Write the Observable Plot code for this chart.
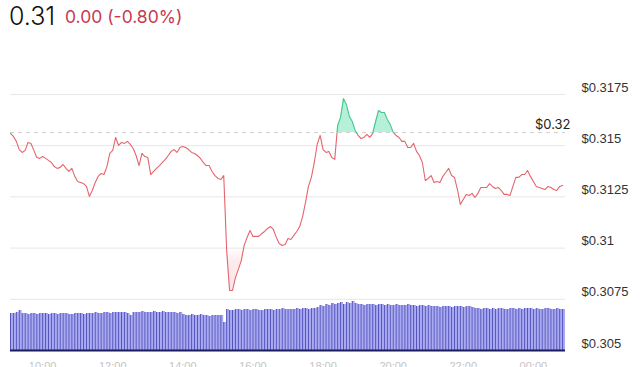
<!DOCTYPE html>
<html>
<head>
<meta charset="utf-8">
<script src="https://cdn.jsdelivr.net/npm/d3@7"></script>
<script src="https://cdn.jsdelivr.net/npm/@observablehq/plot@0.6"></script>
<style>
  html, body { margin: 0; padding: 0; background: #fff; overflow: hidden; width: 640px; height: 367px; }
  #title { position: relative; height: 40px; }
  #price { position: absolute; left: 9px; top: 1px; font-family: Inter, Lato, sans-serif; font-weight: 300; font-size: 25px; color: #111; }
  #change { position: absolute; left: 65px; top: 6px; font-family: Inter, Lato, sans-serif; font-weight: 400; font-size: 17.5px; color: #c8394f; }
  #chart { position: relative; width: 640px; height: 327px; }
  #chart svg { position: absolute; left: 0; top: 0; }
</style>
</head>
<body>
<div id="title"><span id="price"></span><span id="change"></span></div>
<div id="chart"></div>
<script>
// ---- data ----
const headline = "0.31";
const changeText = "0.00 (-0.80%)";
const previousClose = 0.31564;
const previousCloseLabel = "$0.32";
const startTime = Date.UTC(2024, 0, 15, 9, 5);
const stepMinutes = 5;

const prices = [
  0.31560,0.31545,0.31521,0.31481,0.31467,0.31477,0.31516,0.31511,0.31477,0.31442,
  0.31438,0.31447,0.31438,0.31428,0.31418,0.31398,0.31389,0.31394,0.31408,0.31389,
  0.31374,0.31389,0.31350,0.31325,0.31320,0.31315,0.31301,0.31252,0.31281,0.31320,
  0.31350,0.31364,0.31359,0.31398,0.31462,0.31477,0.31540,0.31501,0.31516,0.31511,
  0.31521,0.31506,0.31486,0.31452,0.31403,0.31462,0.31447,0.31442,0.31359,0.31374,
  0.31389,0.31403,0.31418,0.31433,0.31452,0.31472,0.31481,0.31467,0.31491,0.31496,
  0.31491,0.31481,0.31467,0.31462,0.31452,0.31438,0.31418,0.31403,0.31403,0.31374,
  0.31354,0.31340,0.31335,0.31354,0.30988,0.30793,0.30793,0.30856,0.30896,0.30939,
  0.31013,0.31052,0.31086,0.31057,0.31057,0.31057,0.31071,0.31081,0.31096,0.31105,
  0.31091,0.31052,0.31022,0.31013,0.31018,0.31047,0.31042,0.31062,0.31081,0.31105,
  0.31154,0.31223,0.31301,0.31345,0.31418,0.31506,0.31550,0.31481,0.31467,0.31472,
  0.31442,0.31433,0.31599,0.31638,0.31730,0.31701,0.31643,0.31618,0.31574,0.31550,
  0.31535,0.31540,0.31555,0.31540,0.31560,0.31618,0.31672,0.31662,0.31662,0.31628,
  0.31604,0.31565,0.31550,0.31540,0.31521,0.31521,0.31491,0.31491,0.31511,0.31472,
  0.31452,0.31418,0.31330,0.31340,0.31354,0.31320,0.31325,0.31320,0.31350,0.31369,
  0.31389,0.31354,0.31345,0.31286,0.31213,0.31237,0.31262,0.31257,0.31267,0.31247,
  0.31267,0.31296,0.31296,0.31296,0.31315,0.31301,0.31291,0.31296,0.31281,0.31262,
  0.31262,0.31257,0.31301,0.31345,0.31345,0.31359,0.31359,0.31379,0.31350,0.31325,
  0.31301,0.31296,0.31291,0.31286,0.31301,0.31296,0.31286,0.31281,0.31301,0.31306
];

const volumes = [
  37,37,38,40,37,37,36,37,37,36,
  37,37,37,36,37,37,36,37,37,37,
  36,36,37,37,37,36,37,37,37,38,
  37,37,38,38,37,38,38,38,38,38,
  37,35,38,38,38,39,38,38,38,39,
  38,38,39,38,38,38,38,37,38,36,
  35,35,36,35,35,36,35,35,34,35,
  35,35,35,28,41,40,40,41,41,40,
  41,41,40,41,41,40,40,41,41,41,
  40,41,41,42,41,41,41,41,42,41,
  42,42,41,42,42,43,45,44,46,45,
  47,46,47,48,46,48,47,49,47,46,
  46,45,46,46,46,45,46,46,45,46,
  45,45,46,45,45,45,46,45,45,44,
  45,45,44,45,44,44,44,43,44,44,
  44,43,44,44,44,43,44,44,43,42,
  42,41,42,42,41,42,41,42,42,41,
  41,42,42,41,42,41,42,42,42,41,
  42,41,41,42,42,41,41,42,41,41
];

const yTicks = [0.305, 0.3075, 0.31, 0.3125, 0.315, 0.3175];
const yTickLabels = ["$0.305", "$0.3075", "$0.31", "$0.3125", "$0.315", "$0.3175"];

// ---- build tables ----
const step = stepMinutes * 60 * 1000;
const priceData = prices.map((p, i) => ({t: new Date(startTime + i * step), p}));
const volData = volumes.map((v, i) => ({t: new Date(startTime + i * step), t2: new Date(startTime + (i + 1) * step), v}));
const xDomain = [new Date(startTime), new Date(startTime + volumes.length * step)];

document.getElementById("price").textContent = headline;
document.getElementById("change").textContent = changeText;

const W = 640, H = 327;
const xRange = [10, 565];

const main = Plot.plot({
  width: W, height: H,
  marginTop: 13, marginBottom: 17, marginLeft: 10, marginRight: 75,
  style: {fontFamily: "'Liberation Sans', Arial, sans-serif", fontSize: "13px", background: "transparent"},
  x: {type: "utc", domain: xDomain, range: xRange, axis: null},
  y: {domain: [0.305, 0.3195], label: null},
  marks: [
    Plot.ruleY(yTicks.slice(1), {stroke: "#e6e6e6", strokeWidth: 1}),
    Plot.axisY({anchor: "right", label: null, ticks: yTicks, tickSize: 0, tickPadding: 16, dy: -7, fill: "#333",
      tickFormat: d => yTickLabels[yTicks.indexOf(d)]}),
    Plot.areaY(priceData, {x: "t", y1: previousClose, y2: "p", fill: "url(#areaGrad)"}),
    Plot.ruleY([previousClose], {stroke: "#cfcfcf", strokeDasharray: "4,4", strokeWidth: 1}),
    Plot.text([previousCloseLabel], {x: xDomain[1], y: previousClose, text: d => d, textAnchor: "end", dx: 5, dy: -8,
      fontFamily: "Inter, Lato, sans-serif", fontSize: 13, fill: "#222"}),
    Plot.line(priceData, {x: "t", y: "p", stroke: "url(#lineGrad)", strokeWidth: 1.1})
  ]
});

const yS = main.scale("y");
const yB = yS.apply(previousClose);
const yPinkStart = yS.apply(0.3100);
const yPinkFull = yS.apply(0.3093);
const defs = d3.select(main).insert("defs", ":first-child");
const lg = defs.append("linearGradient").attr("id", "lineGrad")
  .attr("gradientUnits", "userSpaceOnUse").attr("x1", 0).attr("y1", 0).attr("x2", 0).attr("y2", H);
lg.append("stop").attr("offset", yB / H).attr("stop-color", "#45c592");
lg.append("stop").attr("offset", yB / H).attr("stop-color", "#e5646c");
const ag = defs.append("linearGradient").attr("id", "areaGrad")
  .attr("gradientUnits", "userSpaceOnUse").attr("x1", 0).attr("y1", 0).attr("x2", 0).attr("y2", H);
ag.append("stop").attr("offset", 0).attr("stop-color", "#4fdca2").attr("stop-opacity", 0.42);
ag.append("stop").attr("offset", yB / H).attr("stop-color", "#4fdca2").attr("stop-opacity", 0.42);
ag.append("stop").attr("offset", yB / H).attr("stop-color", "#f07a85").attr("stop-opacity", 0);
ag.append("stop").attr("offset", yPinkStart / H).attr("stop-color", "#f07a85").attr("stop-opacity", 0);
ag.append("stop").attr("offset", yPinkFull / H).attr("stop-color", "#f07a85").attr("stop-opacity", 0.16);
ag.append("stop").attr("offset", 1).attr("stop-color", "#f07a85").attr("stop-opacity", 0.2);

const bars = Plot.plot({
  width: W, height: 340,
  marginTop: 0, marginBottom: 30, marginLeft: 10, marginRight: 75,
  style: {fontFamily: "'Liberation Sans', Arial, sans-serif", fontSize: "11px", background: "transparent"},
  x: {type: "utc", domain: xDomain, range: xRange, label: null},
  y: {domain: [0, 60], range: [310, 250], axis: null},
  marks: [
    Plot.rectY(volData, {x1: "t", x2: "t2", y: "v", fill: "#a9aaf2", inset: 0}),
    Plot.ruleX(volData, {x: "t", y1: 0, y2: "v", stroke: "#3d3dae", strokeWidth: 0.8}),
    Plot.ruleY([0], {stroke: "#1c1c5c", strokeWidth: 2}),
    Plot.axisX({ticks: d3.utcHour.every(2), label: null, tickFormat: d3.utcFormat("%H:%M"), tickSize: 0, tickPadding: 12, fill: "#c4c4c4"})
  ]
});

const chart = document.getElementById("chart");
chart.appendChild(bars);
chart.appendChild(main);
</script>
</body>
</html>
